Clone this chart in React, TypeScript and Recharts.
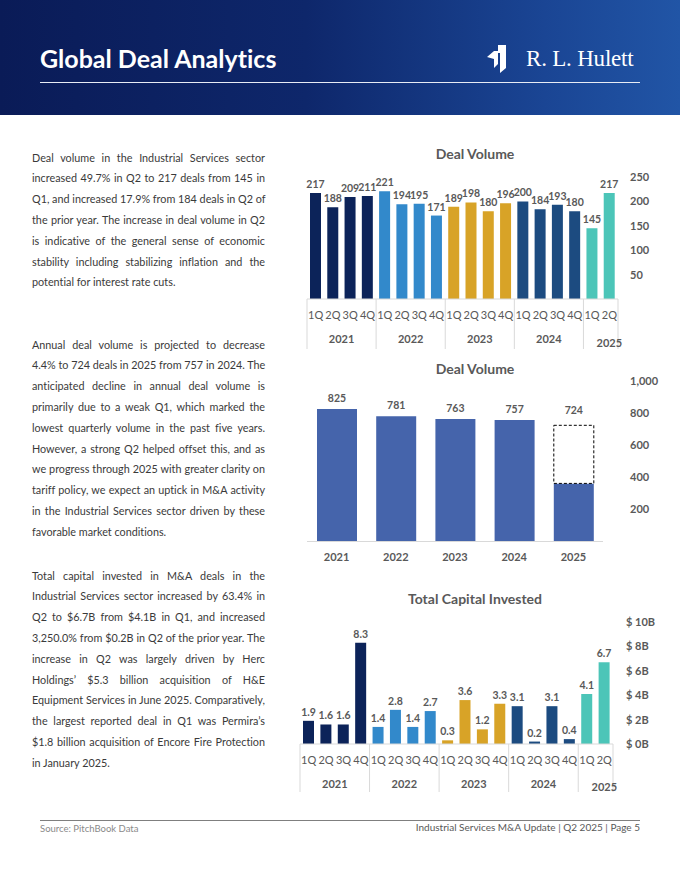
import React from 'react';
import { BarChart, Bar, XAxis, YAxis, LabelList, Cell } from 'recharts';

// ---------- DATA ----------
const quarterLabels = ['1Q','2Q','3Q','4Q','1Q','2Q','3Q','4Q','1Q','2Q','3Q','4Q','1Q','2Q','3Q','4Q','1Q','2Q'];
const quarterYears = ['2021','2021','2021','2021','2022','2022','2022','2022','2023','2023','2023','2023','2024','2024','2024','2024','2025','2025'];
const quarterlyDealVolume = [217,188,209,211,221,194,195,171,189,198,180,196,200,184,193,180,145,217];
const quarterlyCapital = [1.9,1.6,1.6,8.3,1.4,2.8,1.4,2.7,0.3,3.6,1.2,3.3,3.1,0.2,3.1,0.4,4.1,6.7];
const years = ['2021','2022','2023','2024','2025'];
const yearColors = ['#0c2359','#3289cb','#d8a327','#1c4b80','#4cc5b8'];
const annualTotal = [825,781,763,757,724];
const annualActual = [825,781,763,757,362];
const volumeTicks = [50,100,150,200,250];
const annualTicks = [200,400,600,800,1000];
const capitalTicks = [0,2,4,6,8,10];

const para1 = [
  'Deal volume in the Industrial Services sector',
  'increased 49.7% in Q2 to 217 deals from 145 in',
  'Q1, and increased 17.9% from 184 deals in Q2 of',
  'the prior year. The increase in deal volume in Q2',
  'is indicative of the general sense of economic',
  'stability including stabilizing inflation and the',
  'potential for interest rate cuts.',
];
const para2 = [
  'Annual deal volume is projected to decrease',
  '4.4% to 724 deals in 2025 from 757 in 2024. The',
  'anticipated decline in annual deal volume is',
  'primarily due to a weak Q1, which marked the',
  'lowest quarterly volume in the past five years.',
  'However, a strong Q2 helped offset this, and as',
  'we progress through 2025 with greater clarity on',
  'tariff policy, we expect an uptick in M&A activity',
  'in the Industrial Services sector driven by these',
  'favorable market conditions.',
];
const para3 = [
  'Total capital invested in M&A deals in the',
  'Industrial Services sector increased by 63.4% in',
  'Q2 to $6.7B from $4.1B in Q1, and increased',
  '3,250.0% from $0.2B in Q2 of the prior year. The',
  'increase in Q2 was largely driven by Herc',
  'Holdings\u2019 $5.3 billion acquisition of H&E',
  'Equipment Services in June 2025. Comparatively,',
  'the largest reported deal in Q1 was Permira\u2019s',
  '$1.8 billion acquisition of Encore Fire Protection',
  'in January 2025.',
];

const quarterKeys = quarterLabels.map((q, i) => `${quarterYears[i]} ${q}`);
const colorOf = (yr: string) => yearColors[years.indexOf(yr)];

const volumeData = quarterKeys.map((k, i) => ({ key: k, value: quarterlyDealVolume[i], color: colorOf(quarterYears[i]) }));
const capitalData = quarterKeys.map((k, i) => ({ key: k, value: quarterlyCapital[i], color: colorOf(quarterYears[i]) }));
const annualData = years.map((y, i) => {
  const projected = annualTotal[i] - annualActual[i];
  return {
    year: y,
    actual: annualActual[i],
    projected,
    labelActual: projected === 0 ? annualTotal[i] : undefined,
    labelProjected: projected > 0 ? annualTotal[i] : undefined,
  };
});

const FONT = 'Lato, "Open Sans", sans-serif';
const GRAY = '#595959';

function makeQuarterTick(band: number, yearDy: number, lastYearDy: number, sepLen: number) {
  return (props: any) => {
    const { x, y, payload } = props;
    const i = quarterKeys.indexOf(payload.value);
    if (i < 0) return <g />;
    const q = quarterLabels[i];
    const yr = quarterYears[i];
    const groupSize = quarterYears.filter((v) => v === yr).length;
    const isLastGroup = yr === quarterYears[quarterYears.length - 1];
    const isLast = i === quarterKeys.length - 1;
    return (
      <g>
        <text x={x} y={y + 15} textAnchor="middle" dominantBaseline="central" fill={GRAY} fontSize={11} fontFamily={FONT}>{q}</text>
        {q === '1Q' && <line x1={x - band / 2} x2={x - band / 2} y1={y} y2={y + sepLen} stroke="#d9d9d9" strokeWidth={1} />}
        {isLast && <line x1={x + band / 2} x2={x + band / 2} y1={y} y2={y + sepLen} stroke="#d9d9d9" strokeWidth={1} />}
        {q === '2Q' && (
          <text
            x={groupSize === 4 ? x + band / 2 : x}
            y={y + (isLastGroup && groupSize < 4 ? lastYearDy : yearDy)}
            textAnchor="middle" dominantBaseline="central" fill={GRAY} fontSize={11} fontWeight={700} fontFamily={FONT}
          >{yr}</text>
        )}
      </g>
    );
  };
}

function Para({ lines, top }: { lines: string[]; top: number }) {
  return (
    <div style={{ position: 'absolute', left: 32, top, width: 233, fontSize: 10.8, lineHeight: '20.8px', color: '#3a3a3a', fontFamily: FONT, fontVariantLigatures: 'none' }}>
      {lines.map((l, i) => {
        const last = i === lines.length - 1;
        return (
          <div key={i} style={{ textAlign: last ? 'left' : 'justify', textAlignLast: last ? 'left' : 'justify', whiteSpace: 'nowrap' } as any}>{l}</div>
        );
      })}
    </div>
  );
}

function Title({ text, cy }: { text: string; cy: number }) {
  return (
    <div style={{ position: 'absolute', left: 330, width: 290, top: cy - 10, height: 20, lineHeight: '20px', textAlign: 'center', fontSize: 14, fontWeight: 700, color: GRAY, fontFamily: FONT }}>{text}</div>
  );
}

const labelStyle = { fill: GRAY, fontSize: 10.5, fontWeight: 700, fontFamily: FONT };
const axisTick = { fill: GRAY, fontSize: 11, fontWeight: 700, fontFamily: FONT };

export default function App() {
  const band1 = 311 / quarterKeys.length;
  const band3 = 313 / quarterKeys.length;
  return (
    <div style={{ position: 'absolute', left: 0, top: 0, width: 680, height: 880, background: '#ffffff', overflow: 'hidden', fontFamily: FONT }}>
      {/* Header */}
      <div style={{ position: 'absolute', left: 0, top: 0, width: 680, height: 115, background: 'linear-gradient(90deg, #0a1b57 0%, #0e276b 45%, #1a4594 80%, #2155a6 100%)' }} />
      <div style={{ position: 'absolute', left: 40, top: 42, fontSize: 25, fontWeight: 700, color: '#ffffff', fontFamily: FONT, lineHeight: '32px', fontVariantLigatures: 'none', whiteSpace: 'nowrap' }}>Global Deal Analytics</div>
      <div style={{ position: 'absolute', left: 40, top: 82, width: 600, height: 1, background: '#e8ecf5' }} />
      <svg style={{ position: 'absolute', left: 484, top: 42 }} width={30} height={34}>
        <polygon points="14,3 22,3 22,26 16,31 16,11 14,11" fill="#ffffff" />
        <polygon points="3,15 10,9 14,9 14,22 10,26 10,17" fill="#ffffff" />
      </svg>
      <div style={{ position: 'absolute', left: 526, top: 45, fontSize: 23, color: '#ffffff', fontFamily: '"Liberation Serif", "DejaVu Serif", serif', lineHeight: '28px', whiteSpace: 'nowrap', letterSpacing: '-0.2px' }}>R. L. Hulett</div>

      {/* Body text */}
      <Para lines={para1} top={147.6} />
      <Para lines={para2} top={334.6} />
      <Para lines={para3} top={565.6} />

      {/* Chart 1 */}
      <Title text="Deal Volume" cy={154} />
      <div style={{ position: 'absolute', left: 290, top: 130 }}>
        <BarChart width={390} height={230} data={volumeData} margin={{ top: 47, right: 12, bottom: 6, left: 17 }}>
          <XAxis dataKey="key" interval={0} height={55} tickLine={false} tickSize={0} tickMargin={0} axisLine={{ stroke: '#d9d9d9' }} tick={makeQuarterTick(band1, 39, 43, 50)} />
          <YAxis orientation="right" domain={[0, 250]} ticks={volumeTicks} axisLine={false} tickLine={false} tickSize={0} tickMargin={12} width={50} tick={axisTick} />
          <Bar dataKey="value" barSize={11} isAnimationActive={false}>
            {volumeData.map((d, i) => <Cell key={i} fill={d.color} />)}
            <LabelList dataKey="value" position="top" style={labelStyle} />
          </Bar>
        </BarChart>
      </div>

      {/* Chart 2 */}
      <Title text="Deal Volume" cy={369} />
      <div style={{ position: 'absolute', left: 290, top: 370 }}>
        <BarChart width={390} height={200} data={annualData} margin={{ top: 11, right: 27, bottom: 4.5, left: 17 }}>
          <XAxis dataKey="year" interval={0} height={24} tickLine={false} tickSize={0} tickMargin={12} axisLine={{ stroke: '#d9d9d9' }} tick={axisTick} />
          <YAxis orientation="right" domain={[0, 1000]} ticks={annualTicks} axisLine={false} tickLine={false} tickSize={0} tickMargin={27} width={50} tick={axisTick} tickFormatter={(v: number) => v.toLocaleString('en-US')} />
          <Bar dataKey="actual" stackId="a" fill="#4564ab" barSize={40} isAnimationActive={false}>
            <LabelList dataKey="labelActual" position="top" offset={7} style={labelStyle} />
          </Bar>
          <Bar dataKey="projected" stackId="a" fill="#ffffff" stroke="#000000" strokeWidth={1} strokeDasharray="3 2" barSize={40} isAnimationActive={false}>
            <LabelList dataKey="labelProjected" position="top" offset={11} style={labelStyle} />
          </Bar>
        </BarChart>
      </div>

      {/* Chart 3 */}
      <Title text="Total Capital Invested" cy={599} />
      <div style={{ position: 'absolute', left: 290, top: 605 }}>
        <BarChart width={390} height={200} data={capitalData} margin={{ top: 17, right: 17, bottom: 6, left: 10 }}>
          <XAxis dataKey="key" interval={0} height={55} tickLine={false} tickSize={0} tickMargin={0} axisLine={{ stroke: '#d9d9d9' }} tick={makeQuarterTick(band3, 39, 42, 48)} />
          <YAxis orientation="right" domain={[0, 10]} ticks={capitalTicks} axisLine={false} tickLine={false} tickSize={0} tickMargin={13} width={50} tick={axisTick} tickFormatter={(v: number) => `$ ${v}B`} />
          <Bar dataKey="value" barSize={11} isAnimationActive={false}>
            {capitalData.map((d, i) => <Cell key={i} fill={d.color} />)}
            <LabelList dataKey="value" position="top" style={labelStyle} formatter={(v: any) => Number(v).toFixed(1)} />
          </Bar>
        </BarChart>
      </div>

      {/* Footer */}
      <div style={{ position: 'absolute', left: 40, top: 820, width: 600, height: 1, background: '#7f7f7f' }} />
      <div style={{ position: 'absolute', left: 40, top: 823, fontSize: 9.5, color: '#8a8a8a', fontFamily: FONT, lineHeight: '12px' }}>Source: PitchBook Data</div>
      <div style={{ position: 'absolute', right: 40, top: 821, fontSize: 10, color: GRAY, fontFamily: FONT, lineHeight: '12px', whiteSpace: 'nowrap' }}>Industrial Services M&amp;A Update | Q2 2025 | Page 5</div>
    </div>
  );
}
